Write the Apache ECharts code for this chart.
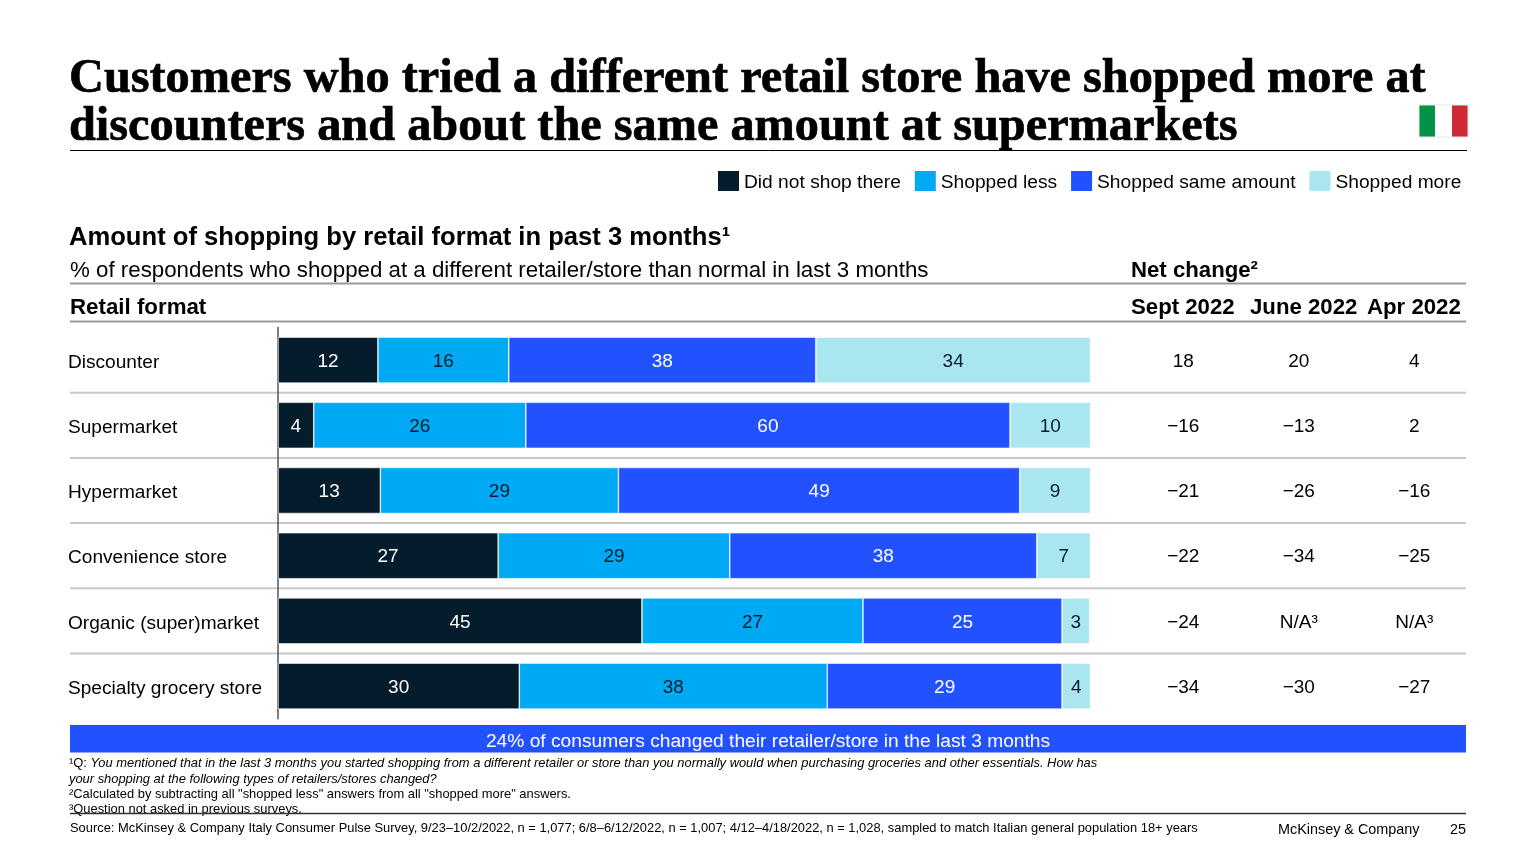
<!DOCTYPE html>
<html><head><meta charset="utf-8">
<style>html,body{margin:0;padding:0;background:#fff}#c{width:1536px;height:864px}</style>
<script src="https://cdn.jsdelivr.net/npm/echarts@6/dist/echarts.min.js"></script>
</head><body><div id="c"></div>
<script>
const formats = ['Discounter','Supermarket','Hypermarket','Convenience store','Organic (super)market','Specialty grocery store'];
const seriesNames = ['Did not shop there','Shopped less','Shopped same amount','Shopped more'];
const didNotShop = [12.3,4.4,12.6,27.1,44.8,29.7];
const shoppedLess = [16.1,26.1,29.3,28.5,27.2,37.9];
const shoppedSame = [37.8,59.6,49.4,37.8,24.5,28.9];
const shoppedMore = [33.8,9.9,8.7,6.6,3.4,3.5];
const netHeaders = ['Sept 2022','June 2022','Apr 2022'];
const netSept = [18,-16,-21,-22,-24,-34];
const netJune = [20,-13,-26,-34,'N/A³',-30];
const netApr = [4,2,-16,-25,'N/A³',-27];

const colors = ['#051C2C','#00A9F4','#2251FF','#AAE6F0'];
const labelColors = ['#fff','#051C2C','#fff','#051C2C'];
const SANS = '"Liberation Sans", Arial, sans-serif';
const SERIF = '"Liberation Serif", serif';
const rowTop = 327.5, rowH = 65.2, L = 70, R = 1466;

function txt(x,y,t,size,o){o=o||{};return {type:'text',x:x,y:y,silent:true,style:Object.assign({text:t,fontFamily:SANS,fontSize:size,fontWeight:o.bold?'bold':'normal',fill:o.fill||'#000',align:o.align||'left',verticalAlign:'middle'},o.style||{})};}
function hline(y,x1,x2,c,w){return {type:'line',silent:true,shape:{x1:x1,y1:y,x2:x2,y2:y},style:{stroke:c,lineWidth:w}};}
function rect(x,y,w,h,c){return {type:'rect',silent:true,shape:{x:x,y:y,width:w,height:h},style:{fill:c}};}
const titleStyle = {fontFamily:SERIF,stroke:'#000',lineWidth:0.7};

const graphics = [
  txt(69,80,'Customers who tried a different retail store have shopped more at',48.3,{bold:1,style:titleStyle}),
  txt(69,128,'discounters and about the same amount at supermarkets',48.3,{bold:1,style:titleStyle}),
  hline(150.5,70,1467,'#000',1),
  rect(1419,105,16,32,'#009246'), rect(1452,105,16,32,'#CE2B37'),
  {type:'rect',silent:true,shape:{x:1419,y:105,width:49,height:32},style:{fill:'none',stroke:'#e6e6e6',lineWidth:1}},
  txt(69,238,'Amount of shopping by retail format in past 3 months¹',25.6,{bold:1}),
  txt(70,271,'% of respondents who shopped at a different retailer/store than normal in last 3 months',22.3),
  txt(1131,271,'Net change²',22.2,{bold:1}),
  hline(283.5,L,R,'#999',2),
  txt(70,307.5,'Retail format',22.3,{bold:1}),
  txt(1131,307.5,netHeaders[0],22.2,{bold:1}),
  txt(1250,307.5,netHeaders[1],22.2,{bold:1}),
  txt(1367,307.5,netHeaders[2],22.2,{bold:1}),
  hline(321.5,L,R,'#999',2),
  rect(L,725,R-L,27.5,'#2251FF'),
  txt(768,741.5,'24% of consumers changed their retailer/store in the last 3 months',19.2,{fill:'#fff',align:'center'}),
  {type:'text',x:69,y:763,silent:true,style:{text:'{n|¹Q: }{i|You mentioned that in the last 3 months you started shopping from a different retailer or store than you normally would when purchasing groceries and other essentials. How has}',verticalAlign:'middle',fontFamily:SANS,fontSize:12.9,rich:{n:{fontFamily:SANS,fontSize:12.9,fill:'#000'},i:{fontFamily:SANS,fontSize:12.9,fontStyle:'italic',fill:'#000'}}}},
  txt(69,779,'your shopping at the following types of retailers/stores changed?',12.9,{style:{fontStyle:'italic'}}),
  txt(69,794.5,'²Calculated by subtracting all "shopped less" answers from all "shopped more" answers.',12.9),
  txt(69,809.5,'³Question not asked in previous surveys.',12.9),
  hline(813.5,L,R,'#333',1.5),
  txt(70,828.5,'Source: McKinsey & Company Italy Consumer Pulse Survey, 9/23–10/2/2022, n = 1,077; 6/8–6/12/2022, n = 1,007; 4/12–4/18/2022, n = 1,028, sampled to match Italian general population 18+ years',12.9),
  txt(1278,830.5,'McKinsey & Company',14.4),
  txt(1466,830.5,'25',14.4,{align:'right'})
];
for (let i=1;i<formats.length;i++) graphics.push(hline(rowTop+i*rowH,L,R,'#c8c8c8',2));

const barValues = [didNotShop,shoppedLess,shoppedSame,shoppedMore];
const bars = barValues.map((vals,k)=>({
  name: seriesNames[k], type:'bar', stack:'s', xAxisIndex:0, yAxisIndex:0,
  barWidth:46, data: vals, itemStyle:{color:colors[k],borderColor:'#fff',borderWidth:0.6},
  label:{show:true,position:'inside',offset:[0,1.5],color:labelColors[k],fontFamily:SANS,fontSize:19,
    formatter:p=>Math.round(p.value)}
}));
const netCols = [netSept,netJune,netApr];
const netData = [];
netCols.forEach((col,c)=>col.forEach((v,r)=>netData.push([netHeaders[c],formats[r],v])));
const netSeries = {
  type:'scatter', xAxisIndex:1, yAxisIndex:1, symbolSize:1, itemStyle:{color:'rgba(0,0,0,0)',opacity:1},
  data: netData, silent:true,
  label:{show:true,position:'inside',offset:[0,1.5],color:'#000',fontFamily:SANS,fontSize:19,
    formatter:p=>typeof p.value[2]==='number'?String(p.value[2]).replace('-','−'):p.value[2]}
};

const chart = echarts.init(document.getElementById('c'),null,{renderer:'canvas'});
chart.setOption({
  animation:false,
  backgroundColor:'#fff',
  textStyle:{fontFamily:SANS},
  legend:{data:seriesNames,left:718,top:171,padding:0,itemWidth:21,itemHeight:20,itemGap:14,
    selectedMode:false,icon:'rect',itemStyle:{borderWidth:0},formatter:'{a|{name}}',
    textStyle:{fontFamily:SANS,fontSize:19.2,color:'#000',
      rich:{a:{fontFamily:SANS,fontSize:19.2,color:'#000',padding:[4,0,0,0]}}}},
  grid:[
    {left:278,width:812.5,top:rowTop,height:rowH*6},
    {left:1125.5,width:346.5,top:rowTop,height:rowH*6}
  ],
  xAxis:[
    {type:'value',gridIndex:0,min:0,max:100,show:false},
    {type:'category',gridIndex:1,data:netHeaders,show:false}
  ],
  yAxis:[
    {type:'category',gridIndex:0,data:formats,inverse:true,
     axisLine:{show:true,lineStyle:{color:'#555',width:1.5}},axisTick:{show:false},
     axisLabel:{align:'left',margin:210,color:'#000',fontFamily:SANS,fontSize:19.1,interval:0,
       formatter:'{a|{value}}',rich:{a:{fontFamily:SANS,fontSize:19.1,color:'#000',padding:[5,0,0,0]}}}},
    {type:'category',gridIndex:1,data:formats,inverse:true,show:false}
  ],
  series:[...bars,netSeries],
  graphic:{elements:graphics}
});
</script></body></html>
